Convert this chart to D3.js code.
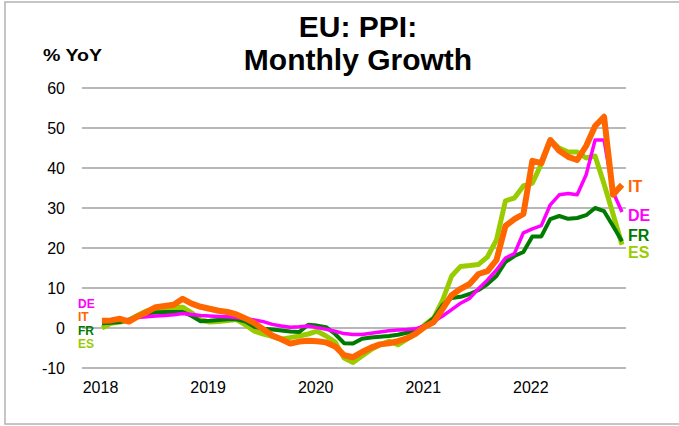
<!DOCTYPE html>
<html>
<head>
<meta charset="utf-8">
<script src="https://cdn.jsdelivr.net/npm/d3@7"></script>
<style>
  html, body { margin: 0; padding: 0; background: #fff; }
  svg { display: block; font-family: "Liberation Sans", Arial, sans-serif; }
</style>
</head>
<body>
<svg id="chart" width="679" height="426"></svg>
<script>
// Monthly observations, Jan 2018 – Nov 2022
const months = d3.timeMonth.range(new Date(2018, 0, 1), new Date(2022, 11, 1)).map(d3.timeFormat("%Y-%m"));

const seriesDE = [2.0, 1.9, 2.0, 2.1, 2.6, 2.8, 3.0, 3.1, 3.3, 3.6, 3.4, 3.1,
  3.0, 2.9, 2.8, 2.6, 2.3, 2.0, 1.6, 0.9, 0.5, 0.2, 0.3, 0.5,
  0.1, -0.3, -0.8, -1.4, -1.6, -1.6, -1.3, -1.0, -0.7, -0.5, -0.4, -0.2,
  0.6, 1.6, 3.0, 4.6, 6.2, 7.4, 9.8, 12.0, 14.5, 17.5, 18.6, 23.8,
  24.8, 25.6, 30.8, 33.3, 33.6, 33.3, 38.3, 47.0, 47.0, 34.0, 29.0];

const seriesIT = [1.8, 1.9, 2.3, 1.6, 2.9, 4.0, 5.2, 5.5, 5.8, 7.3, 6.1, 5.3,
  4.8, 4.3, 4.0, 3.4, 2.4, 1.2, -0.3, -1.9, -2.8, -3.9, -3.4, -3.2,
  -3.3, -3.6, -4.6, -6.8, -7.3, -6.0, -4.9, -4.1, -3.8, -3.3, -2.6, -1.4,
  0.3, 1.5, 4.8, 8.2, 9.8, 11.0, 13.5, 14.2, 17.0, 25.5, 27.2, 28.5,
  41.8, 41.2, 47.0, 44.3, 42.8, 42.0, 45.5, 50.5, 52.8, 33.3, 35.8];

const seriesFR = [1.2, 1.3, 1.5, 2.0, 3.0, 3.7, 3.9, 4.0, 4.0, 4.0, 3.0, 1.7,
  1.8, 2.0, 2.2, 2.2, 1.6, 0.3, -0.2, -0.4, -0.6, -0.9, -1.0, 0.8,
  0.6, 0.2, -1.5, -3.8, -3.9, -2.7, -2.4, -2.2, -2.0, -1.7, -1.2, -0.6,
  0.6, 2.5, 5.8, 7.5, 7.8, 8.5, 9.5, 11.0, 13.0, 16.5, 18.0, 19.0,
  22.9, 22.9, 27.2, 28.0, 27.3, 27.5, 28.2, 30.0, 29.2, 25.5, 21.7];

const seriesES = [0.0, 1.2, 1.5, 2.0, 3.2, 4.3, 4.9, 5.0, 5.1, 5.2, 3.8, 2.0,
  1.5, 1.6, 1.9, 2.1, 0.8, -0.8, -1.5, -2.1, -2.8, -2.4, -2.0, -1.5,
  -0.8, -2.0, -3.5, -7.5, -8.6, -7.0, -5.4, -4.2, -3.3, -4.2, -2.8, -1.5,
  0.8, 2.5, 7.0, 13.0, 15.4, 15.6, 15.9, 17.8, 22.0, 31.8, 32.5, 35.5,
  36.2, 41.0, 47.0, 45.0, 44.0, 44.0, 42.5, 43.0, 36.0, 28.5, 20.8];

const yTicks = [-10, 0, 10, 20, 30, 40, 50, 60];
const yearTicks = ["2018-01", "2019-01", "2020-01", "2021-01", "2022-01"];
const yearLabels = ["2018", "2019", "2020", "2021", "2022"];

const seriesNames = ["ES", "FR", "DE", "IT"];
const seriesData = { ES: seriesES, FR: seriesFR, DE: seriesDE, IT: seriesIT };
const colors = { DE: "#FF00FF", IT: "#FF6600", FR: "#007A00", ES: "#99CC00" };
const widths = { DE: 3.5, IT: 6, FR: 4, ES: 5 };

const svg = d3.select("#chart");

// outer frame
svg.append("rect")
  .attr("x", 5).attr("y", 2).attr("width", 690).attr("height", 422)
  .attr("fill", "none").attr("stroke", "#b3b3b3").attr("stroke-width", 1.5);

const x = d3.scalePoint().domain(months).range([102, 622]);
const y = d3.scaleLinear().domain([-10, 60]).range([368, 88]);

// gridlines
svg.append("g").selectAll("line").data(yTicks).join("line")
  .attr("x1", 82).attr("x2", 626)
  .attr("y1", d => y(d)).attr("y2", d => y(d))
  .attr("stroke", "#a0a0a0").attr("stroke-width", 1.5);

// y axis labels (plain hyphen for negatives)
const yAxis = d3.axisLeft(y).tickValues(yTicks).tickSize(0).tickPadding(0)
  .tickFormat(d => String(d));
svg.append("g").attr("transform", "translate(65,0)").call(yAxis)
  .call(g => g.select(".domain").remove())
  .call(g => g.selectAll("text").attr("font-size", 16).attr("fill", "#000")
    .attr("font-family", "Liberation Sans, Arial, sans-serif"));

// x axis labels
const xAxis = d3.axisBottom(x).tickValues(yearTicks).tickSize(0).tickPadding(0)
  .tickFormat((d, i) => yearLabels[i]);
svg.append("g").attr("transform", "translate(-2,382)").call(xAxis)
  .call(g => g.select(".domain").remove())
  .call(g => g.selectAll("text").attr("font-size", 16).attr("fill", "#000")
    .attr("font-family", "Liberation Sans, Arial, sans-serif"));

// series lines
const line = d3.line().x((d, i) => x(months[i])).y(d => y(d));
svg.append("g").selectAll("path").data(seriesNames).join("path")
  .attr("d", k => line(seriesData[k]))
  .attr("fill", "none")
  .attr("stroke", k => colors[k])
  .attr("stroke-width", k => widths[k])
  .attr("stroke-linejoin", "round")
  .attr("stroke-linecap", "butt");

// left legend
const leftLegend = [["DE", 304], ["IT", 317], ["FR", 331], ["ES", 344]];
svg.append("g").selectAll("text").data(leftLegend).join("text")
  .attr("x", 78).attr("y", d => d[1]).attr("dy", "0.35em")
  .attr("font-size", 12).attr("font-weight", "bold")
  .attr("fill", d => colors[d[0]]).text(d => d[0]);

// right labels
const rightLabels = [["IT", 186], ["DE", 215], ["FR", 235], ["ES", 252]];
svg.append("g").selectAll("text").data(rightLabels).join("text")
  .attr("x", 628).attr("y", d => d[1]).attr("dy", "0.35em")
  .attr("font-size", 16).attr("font-weight", "bold")
  .attr("fill", d => colors[d[0]]).text(d => d[0]);

// titles
svg.append("text").attr("x", 358).attr("y", 37).attr("text-anchor", "middle")
  .attr("font-size", 30).attr("font-weight", "bold").text("EU: PPI:");
svg.append("text").attr("x", 358).attr("y", 70).attr("text-anchor", "middle")
  .attr("font-size", 30).attr("font-weight", "bold").text("Monthly Growth");
svg.append("text").attr("x", 43).attr("y", 61)
  .attr("font-size", 16).attr("font-weight", "bold")
  .attr("textLength", 59).attr("lengthAdjust", "spacingAndGlyphs").text("% YoY");
</script>
</body>
</html>
